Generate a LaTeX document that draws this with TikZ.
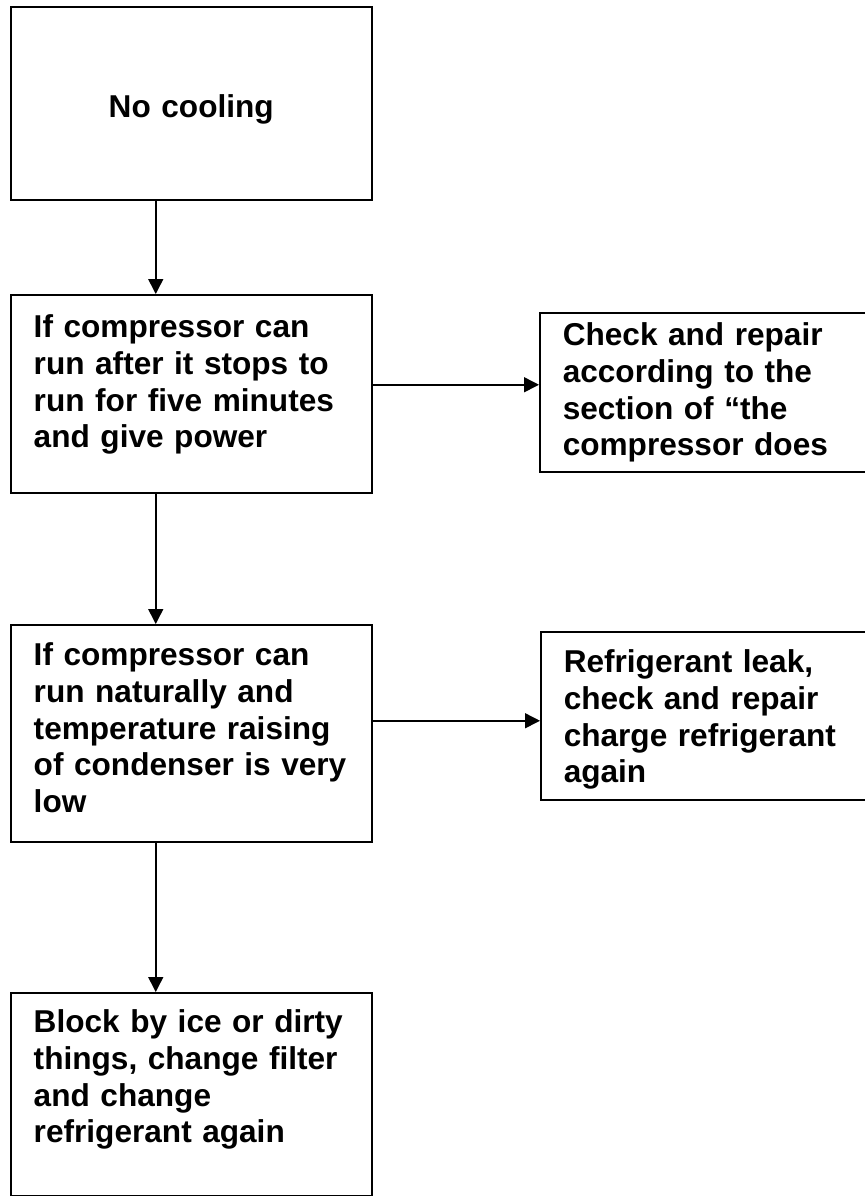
\documentclass[tikz,border=0pt]{standalone}
\usepackage{fontspec}
\setmainfont{Liberation Sans}
\usetikzlibrary{arrows.meta}

\begin{document}
\begin{tikzpicture}
[box/.style={rectangle,draw=black,line width=0.75pt,anchor=north west,align=left,inner xsep=11.5pt,inner ysep=0pt,
  font=\fontsize{15.8pt}{18.35pt}\selectfont\bfseries},
leftbox/.style={box,text width=157.5pt},
rightbox/.style={box,text width=150pt},
flow/.style={-{Triangle[length=7.5pt,width=7.5pt]},line width=0.75pt}]

\def \stemshift {-17.75pt}

\useasboundingbox (0pt,0pt) rectangle (432.5pt,-598pt);

% Drawing boxes
\node[leftbox,align=center,text height=55.5pt,text depth=41pt] (nocool) at (5pt,-3pt) {No cooling};
\node[leftbox,text height=21.5pt,text depth=77.5pt] (runcheck) at (5pt,-147pt)
  {If compressor can\\run after it stops to\\run for five minutes\\and give power};
\node[rightbox,text height=16.5pt,text depth=63pt] (repair) at (269.5pt,-156pt)
  {Check and repair\\according to the\\section of “the\\compressor does};
\node[leftbox,text height=20.5pt,text depth=88pt] (natural) at (5pt,-312pt)
  {If compressor can\\run naturally and\\temperature raising\\of condenser is very\\low};
\node[rightbox,text height=20.5pt,text depth=63.5pt] (leak) at (270pt,-315.5pt)
  {Refrigerant leak,\\check and repair\\charge refrigerant\\again};
\node[leftbox,text height=20pt,text depth=81.5pt] (block) at (5pt,-496pt)
  {Block by ice or dirty\\things, change filter\\and change\\refrigerant again};

% Drawing connections
\draw[flow] ([xshift=\stemshift]nocool.south) -- ([xshift=\stemshift]runcheck.north);
\draw[flow] ([yshift=4.5pt]runcheck.east) -- ([yshift=4.5pt]runcheck.east -| repair.west);
\draw[flow] ([xshift=\stemshift]runcheck.south) -- ([xshift=\stemshift]natural.north);
\draw[flow] ([yshift=6.25pt]natural.east) -- ([yshift=6.25pt]natural.east -| leak.west);
\draw[flow] ([xshift=\stemshift]natural.south) -- ([xshift=\stemshift]block.north);
\end{tikzpicture}
\end{document}
